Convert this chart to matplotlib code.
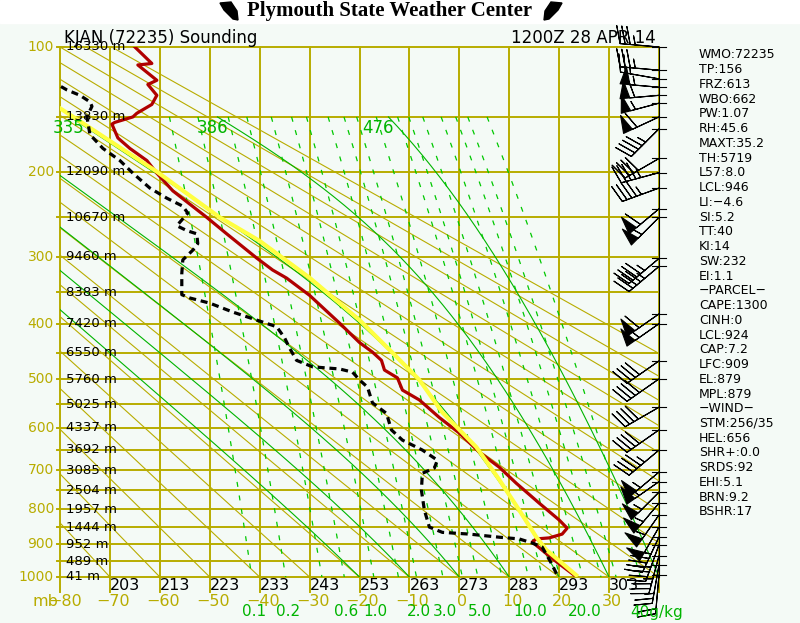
import numpy as np
import matplotlib
matplotlib.use("Agg")
import matplotlib.pyplot as plt
from matplotlib.patches import Polygon, Rectangle

# ---- sounding data (pressure hPa, temperature degC) ----
temp_p = [100, 110.5, 111.5, 122, 125, 133, 140, 147, 150, 154.5, 156, 168, 177.5, 189,
          201.5, 220, 250, 270, 301.5, 318, 329.5, 355, 399, 432, 449, 464, 482, 497,
          521, 541, 578, 612, 656, 692, 732, 784, 830, 853, 870, 881, 884, 893, 947, 994]
temp_c = [-65, -61.6, -64.4, -60.6, -62.4, -60.6, -61.6, -64.6, -65.4, -69, -69.6, -68.4,
          -66, -62.6, -60.6, -57.4, -50.6, -46.6, -40.6, -37.4, -34.6, -30, -24, -20,
          -17.4, -15.6, -15, -12.4, -11.4, -8, -4, 0, 4, 8, 11.4, 16, 20, 21.6, 20.6,
          18, 15.4, 14.6, 19, 23]

dew_p = [126.5, 129, 133, 138, 141.5, 150, 165, 177.5, 189, 201.5, 217, 228, 237, 245,
         260, 266, 270, 282.5, 291, 304, 323, 354, 359, 367, 381, 394, 405, 424, 442,
         464, 476, 480, 486, 501, 515, 547, 569, 605, 628, 651, 675, 694, 707, 750, 803,
         850, 865, 870, 879, 884, 896, 908, 956, 994]
dew_c = [-79.8, -78.6, -76, -74, -73.6, -74.6, -74, -71.4, -68, -65.4, -62, -58.6, -55.4,
         -54.4, -56.6, -54.6, -52.6, -52.4, -53.4, -55.4, -55.6, -55.6, -54, -50, -45.4,
         -40.6, -36.6, -35, -34, -32.6, -29.4, -24, -21.4, -20, -18.4, -17.4, -14.6,
         -13.6, -11.4, -7.4, -4.4, -5, -7.4, -7.6, -7, -6, -3.4, 2, 8, 12, 14.6, 16.6,
         18.4, 19.6]

parcel_p = [143, 200, 250, 279, 329, 394, 450, 501, 567, 644, 723, 803, 878, 916, 994]
parcel_c = [-80, -60.6, -48, -40, -30, -20, -13.4, -8, -3.4, 3.4, 8, 12, 15.4, 17.4, 23.4]

# wind barbs: pressure, direction (deg), speed (kt)
barb_p = [100, 115, 121, 127, 133, 139, 150, 160, 187, 201, 217, 240, 250, 302, 313,
          384, 400, 465, 499, 556, 605, 651, 704, 728, 755, 784, 816, 850, 878, 901,
          934, 962, 993]
barb_dir = [275, 275, 280, 275, 265, 255, 245, 225, 240, 255, 250, 230, 225, 230, 230,
            235, 235, 235, 235, 240, 235, 230, 230, 235, 225, 220, 215, 210, 205, 200,
            195, 190, 185]
barb_spd = [35, 35, 25, 55, 60, 55, 60, 45, 40, 45, 45, 60, 60, 45, 45,
            60, 60, 40, 40, 40, 40, 45, 55, 55, 55, 55, 55, 50, 45, 40,
            35, 25, 20]

height_p = [100, 150, 200, 250, 300, 350, 400, 450, 500, 550, 600, 650, 700, 750,
            800, 850, 900, 950, 1000]
height_m = [16330, 13830, 12090, 10670, 9460, 8383, 7420, 6550, 5760, 5025, 4337,
            3692, 3085, 2504, 1957, 1444, 952, 489, 41]

mix_w = [0.1, 0.2, 0.4, 0.6, 1.0, 1.5, 2.0, 3.0, 4.0, 5.0, 7.0, 10.0, 12.0, 15.0,
         20.0, 25.0, 30.0, 40.0]
mix_labels = ["0.1", "0.2", "0.6", "1.0", "2.0", "3.0", "5.0", "10.0", "20.0"]
moist_tw = [-20, -10, 0, 10, 20, 30, 40]
theta_e_labels = [("335", 69), ("386", 213), ("476", 378)]

stats = ["WMO:72235", "TP:156", "FRZ:613", "WBO:662", "PW:1.07", "RH:45.6", "MAXT:35.2",
         "TH:5719", "L57:8.0", "LCL:946", "LI:-4.6", "SI:5.2", "TT:40", "KI:14",
         "SW:232", "EI:1.1", "-PARCEL-", "CAPE:1300", "CINH:0", "LCL:924", "CAP:7.2",
         "LFC:909", "EL:879", "MPL:879", "-WIND-", "STM:256/35", "HEL:656", "SHR+:0.0",
         "SRDS:92", "EHI:5.1", "BRN:9.2", "BSHR:17"]

BG = "#f4faf6"
OLIVE = "#b8ac00"
GREEN = "#00b400"
KAPPA = 0.286
W, H = 800, 623


def py(p):
    return np.asarray(p, float) ** KAPPA


def fx(x):
    return x / W


def fy(y):
    return 1 - y / H


def es(tc):
    return 6.112 * np.exp(17.67 * tc / (tc + 243.5))


def moist_adiabat(t0, pres):
    rd, cp, lv, eps = 287.04, 1005.7, 2.501e6, 0.622

    def slope(p, t):
        tc = t - 273.15
        e = es(tc)
        rs = eps * e / (p - e)
        return (rd * t + lv * rs) / (p * (cp + lv * lv * rs * eps / (rd * t * t)))

    out = [t0 + 273.15]
    for i in range(1, len(pres)):
        p0, p1 = pres[i - 1], pres[i]
        h = p1 - p0
        t = out[-1]
        k1 = slope(p0, t)
        k2 = slope(p0 + h / 2, t + h / 2 * k1)
        k3 = slope(p0 + h / 2, t + h / 2 * k2)
        k4 = slope(p1, t + h * k3)
        out.append(t + h / 6 * (k1 + 2 * k2 + 2 * k3 + k4))
    return np.array(out) - 273.15


def mix_temp(w, p):
    e = w * p / (622.0 + w)
    a = np.log(e / 6.112)
    return 243.5 * a / (17.67 - a)


fig = plt.figure(figsize=(W / 100, H / 100), dpi=100, facecolor=BG)
fig.patches.append(Rectangle((0, fy(23)), 1, 23 / H, transform=fig.transFigure,
                             color="white", zorder=0))
ax = fig.add_axes([60 / W, 46 / H, 599 / W, 530 / H])
ax.set_xlim(-80, 40)
ax.set_ylim(py(1000), py(100))
ax.set_axis_off()

# isobars and isotherms
for p in height_p:
    ax.plot([-80.6, 40], [py(p)] * 2, color=OLIVE, lw=1.4, clip_on=False, zorder=1)
for t in range(-80, 41, 10):
    ax.plot([t, t], [py(100), py(1000) + 0.098], color=OLIVE, lw=1.4, clip_on=False,
            zorder=1)

# dry adiabats
pp = np.linspace(100, 1000, 200)
for t1000 in range(-70, 121, 10):
    th = t1000 + 273.15
    ax.plot(th * (pp / 1000) ** KAPPA - 273.15, py(pp), color=OLIVE, lw=0.8, zorder=1)

# moist adiabats
pm = np.arange(1000, 149, -2.0)
for tw in moist_tw:
    ax.plot(moist_adiabat(tw, pm), py(pm), color=GREEN, lw=0.8, zorder=2)

# mixing ratio lines
pw = np.linspace(150, 1000, 100)
for w in mix_w:
    ax.plot(mix_temp(w, pw), py(pw), color="#00c800", lw=0.9, ls=(0, (4, 7)), zorder=2)

# sounding
ax.plot(temp_c, py(temp_p), color="#b00000", lw=2.3, zorder=4)
ax.plot(parcel_c, py(parcel_p), color="#ffff40", lw=3.0, zorder=5)
ax.plot(dew_c, py(dew_p), color="black", lw=2.3, ls=(0, (2.2, 1.5)),
        dash_capstyle="butt", zorder=6)

# wind barbs on right edge
ax.plot([40, 40], [py(100), py(1000)], color="black", lw=0.8, clip_on=False, zorder=6)
bd = np.radians(barb_dir)
u = -np.array(barb_spd) * np.sin(bd)
v = -np.array(barb_spd) * np.cos(bd)
ax.barbs(np.full(len(barb_p), 40.0), py(barb_p), u, v, length=7.5, lw=0.8,
         sizes=dict(height=0.45, spacing=0.13), barbcolor="black", flagcolor="black",
         clip_on=False, zorder=7)
for p in barb_p:
    ax.plot([38.6, 41.4], [py(p)] * 2, color="black", lw=0.8, clip_on=False, zorder=7)

# heights and pressure labels
for p, hm in zip(height_p, height_m):
    y = 577 - (py(1000) - py(p)) / (py(1000) - py(100)) * 530
    fig.text(fx(66), fy(y), f"{hm} m", fontsize=9.5, color="black", ha="left",
             va="center", zorder=8)
    if p % 100 == 0:
        fig.text(fx(54), fy(y), str(p), fontsize=10, color=OLIVE, ha="right",
                 va="center")

# bottom rows
for t in range(-70, 31, 10):
    x = 60 + (t + 80) * 599 / 120
    fig.text(fx(x), fy(586), str(t + 273), fontsize=11.5, color="black", ha="left",
             va="center")
fig.text(fx(33), fy(602), "mb", fontsize=11.5, color=OLIVE, ha="left", va="center")
for t in range(-80, 31, 10):
    x = 60 + (t + 80) * 599 / 120
    lab = str(t).replace("-", "\u2212")
    fig.text(fx(x + 5 if t == -80 else x + 3), fy(602), lab, fontsize=11.5,
             color=OLIVE, ha="center", va="center")
for lab in mix_labels:
    x = 60 + (mix_temp(float(lab), 1000.0) + 80) * 599 / 120
    fig.text(fx(x + 2), fy(612), lab, fontsize=11, color=GREEN, ha="center",
             va="center")
fig.text(fx(630), fy(612), "40g/kg", fontsize=11, color=GREEN, ha="left", va="center")
for lab, x in theta_e_labels:
    fig.text(fx(x), fy(128), lab, fontsize=12, color=GREEN, ha="center", va="center")

# headers
fig.text(fx(64), fy(38), "KJAN (72235) Sounding", fontsize=12, ha="left", va="center")
fig.text(fx(656), fy(38), "1200Z 28 APR 14", fontsize=12, ha="right", va="center")
fig.text(fx(390), fy(11), "Plymouth State Weather Center", fontsize=15,
         family="Liberation Serif", weight="bold", ha="center", va="center")
icon = [(220, 3), (231, 2), (237, 11), (238, 20), (233, 19), (224, 10)]
for mirror in (False, True):
    pts = [((782 - x) if mirror else x, y) for x, y in icon]
    fig.patches.append(Polygon([(fx(x), fy(y)) for x, y in pts], closed=True,
                               transform=fig.transFigure, color="black"))

for i, s in enumerate(stats):
    fig.text(fx(699), fy(55 + i * 14.74), s.replace("-", "\u2212"), fontsize=9,
             ha="left", va="center")

fig.savefig("out.png", dpi=100, facecolor=BG)
